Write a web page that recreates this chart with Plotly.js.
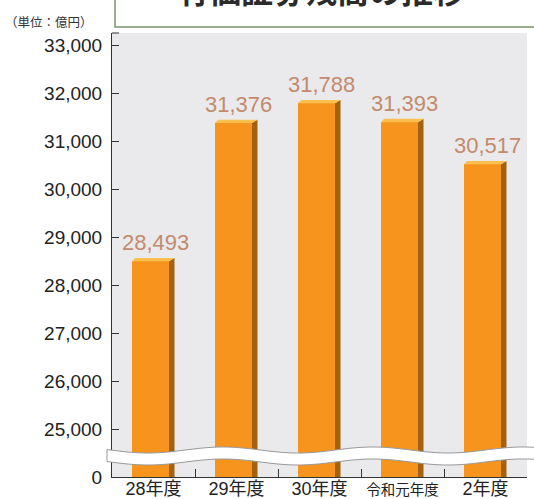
<!DOCTYPE html>
<html>
<head>
<meta charset="utf-8">
<script src="https://cdn.plot.ly/plotly-3.0.1.min.js"></script>
<style>html,body{margin:0;padding:0;background:#fff;}#chart{width:534px;height:499px;}</style>
</head>
<body>
<div id="chart"></div>
<script>
// ---- data ----
const categories = ['28年度', '29年度', '30年度', '令和元年度', '2年度'];
const values = [28493, 31376, 31788, 31393, 30517];
const yTickValues = [0, 25000, 26000, 27000, 28000, 29000, 30000, 31000, 32000, 33000];
const yTickLabels = ['0', '25,000', '26,000', '27,000', '28,000', '29,000', '30,000', '31,000', '32,000', '33,000'];
const chartTitle = '有価証券残高の推移';
const unitLabel = '（単位：億円）';

// broken axis: 0 at the bottom, then 25,000 upward
const breakBase = 24000, breakStep = 1000;
function disp(v) { return v === 0 ? 0 : (v - breakBase) / breakStep; }

// plot geometry (pixels)
const W = 534, H = 499;
const L = 112, R = 7, T = 33, B = 22;
const pw = W - L - R, ph = H - T - B;
const yMax = 9.25;
const pxX = 1 / (pw / 5);
const pxY = yMax / ph;
function paperX(px) { return (px - L) / pw; }
function paperY(py) { return (H - B - py) / ph; }

const frontL = -21.5 * pxX, frontR = 15.5 * pxX;
const depthX = 5.5 * pxX, depthY = 3.3 * pxY, slantL = 3 * pxX;

const xs = categories.map((c, i) => i);
const ys = values.map(disp);

const frontTrace = {
  type: 'bar', x: xs, y: ys, base: 0,
  width: frontR - frontL, offset: frontL,
  marker: { color: '#F7941D', line: { width: 0 } },
  hoverinfo: 'skip', showlegend: false
};

const sx = [], sy = [], tx = [], ty = [];
xs.forEach((x, i) => {
  const v = ys[i];
  sx.push(x + frontR, x + frontR, x + frontR + depthX, x + frontR + depthX, x + frontR, null);
  sy.push(0, v, v + depthY, 0, 0, null);
  tx.push(x + frontL, x + frontR, x + frontR + depthX, x + frontL + slantL, x + frontL, null);
  ty.push(v, v, v + depthY, v + depthY, v, null);
});
const sideTrace = {
  type: 'scatter', mode: 'lines', x: sx, y: sy, fill: 'toself',
  fillcolor: '#A4620E', line: { width: 0, color: '#A4620E' },
  hoverinfo: 'skip', showlegend: false
};
const topTrace = {
  type: 'scatter', mode: 'lines', x: tx, y: ty, fill: 'toself',
  fillcolor: '#FCC04E', line: { width: 0, color: '#FCC04E' },
  hoverinfo: 'skip', showlegend: false
};
const dummy2 = { type: 'scatter', x: [0], y: [0], xaxis: 'x2', mode: 'markers',
  marker: { opacity: 0 }, hoverinfo: 'skip', showlegend: false };

// value labels
const annotations = xs.map((x, i) => ({
  x: x + 0.02, y: ys[i], xref: 'x', yref: 'y',
  text: values[i].toLocaleString('en-US'),
  showarrow: false, xanchor: 'center', yanchor: 'bottom', yshift: 4,
  font: { family: 'Liberation Sans, Arial, sans-serif', size: 22, color: '#C38A6C' }
}));
annotations.push({
  x: paperX(321), y: paperY(14), xref: 'paper', yref: 'paper',
  text: '<b>' + chartTitle + '</b>', showarrow: false, xanchor: 'center', yanchor: 'bottom',
  font: { family: 'Noto Sans CJK JP, sans-serif', size: 32, color: '#2b2b2b' }
});
annotations.push({
  x: paperX(3), y: paperY(21), xref: 'paper', yref: 'paper',
  text: unitLabel, showarrow: false, xanchor: 'left', yanchor: 'middle',
  font: { family: 'Noto Sans CJK JP, sans-serif', size: 12.5, color: '#333' }
});

// break band path (decoration)
function wave(px, c) { return c + 3 * Math.cos(2 * Math.PI * (px - 148) / 150); }
let path = '';
const x0 = 107, x1 = 545;
for (let px = x0; px <= x1; px += 2) {
  path += (px === x0 ? 'M' : 'L') + paperX(px).toFixed(5) + ',' + paperY(wave(px, 450)).toFixed(5);
}
for (let px = x1; px >= x0; px -= 2) {
  path += 'L' + paperX(px).toFixed(5) + ',' + paperY(wave(px, 462)).toFixed(5);
}
path += 'Z';

const shapes = [
  { type: 'rect', xref: 'paper', yref: 'paper', x0: paperX(115), x1: paperX(560),
    y0: paperY(27), y1: paperY(-20), line: { color: '#7A9768', width: 1.5 }, fillcolor: '#ffffff', layer: 'above' },
  { type: 'path', xref: 'paper', yref: 'paper', path: path,
    fillcolor: '#ffffff', line: { color: '#9a9a9a', width: 1 }, layer: 'above' },
  { type: 'line', xref: 'paper', yref: 'paper', x0: 0, x1: paperX(119), y0: 1, y1: 1,
    line: { color: '#333', width: 1 }, layer: 'above' }
];

const tickText = categories.map(c => c.length > 4 ? '<span style="font-size:14.5px">' + c + '</span>' : c);

const layout = {
  width: W, height: H,
  margin: { l: L, r: R, t: T, b: B, pad: 0 },
  paper_bgcolor: '#ffffff', plot_bgcolor: '#EAEAEC',
  showlegend: false,
  font: { family: 'Liberation Sans, Arial, Noto Sans CJK JP, sans-serif', color: '#222' },
  xaxis: {
    type: 'linear', range: [-0.5, 4.5], tickvals: xs, ticktext: tickText,
    ticks: '', ticklen: 0, ticklabelstandoff: -5,
    showgrid: false, zeroline: false, showline: true, linecolor: '#333', linewidth: 1,
    tickfont: { size: 18, color: '#222', family: 'Liberation Sans, Arial, Noto Sans CJK JP, sans-serif' },
    fixedrange: true
  },
  xaxis2: {
    type: 'linear', overlaying: 'x', matches: 'x', range: [-0.5, 4.5],
    tickvals: [0.5, 1.5, 2.5, 3.5, 4.5], ticks: 'inside', ticklen: 8, tickcolor: '#333', tickwidth: 1,
    showticklabels: false, showgrid: false, zeroline: false, showline: false, side: 'bottom'
  },
  yaxis: {
    range: [0, yMax], tickvals: yTickValues.map(disp), ticktext: yTickLabels,
    ticks: 'inside', ticklen: 7, tickcolor: '#333', tickwidth: 1,
    showgrid: false, zeroline: false, showline: true, linecolor: '#333', linewidth: 1,
    ticklabelstandoff: 5,
    tickfont: { size: 19, color: '#222', family: 'Liberation Sans, Arial, sans-serif' },
    fixedrange: true
  },
  bargap: 0,
  annotations: annotations,
  shapes: shapes
};

Plotly.newPlot('chart', [frontTrace, sideTrace, topTrace, dummy2], layout, { staticPlot: true, displayModeBar: false });
</script>
</body>
</html>
